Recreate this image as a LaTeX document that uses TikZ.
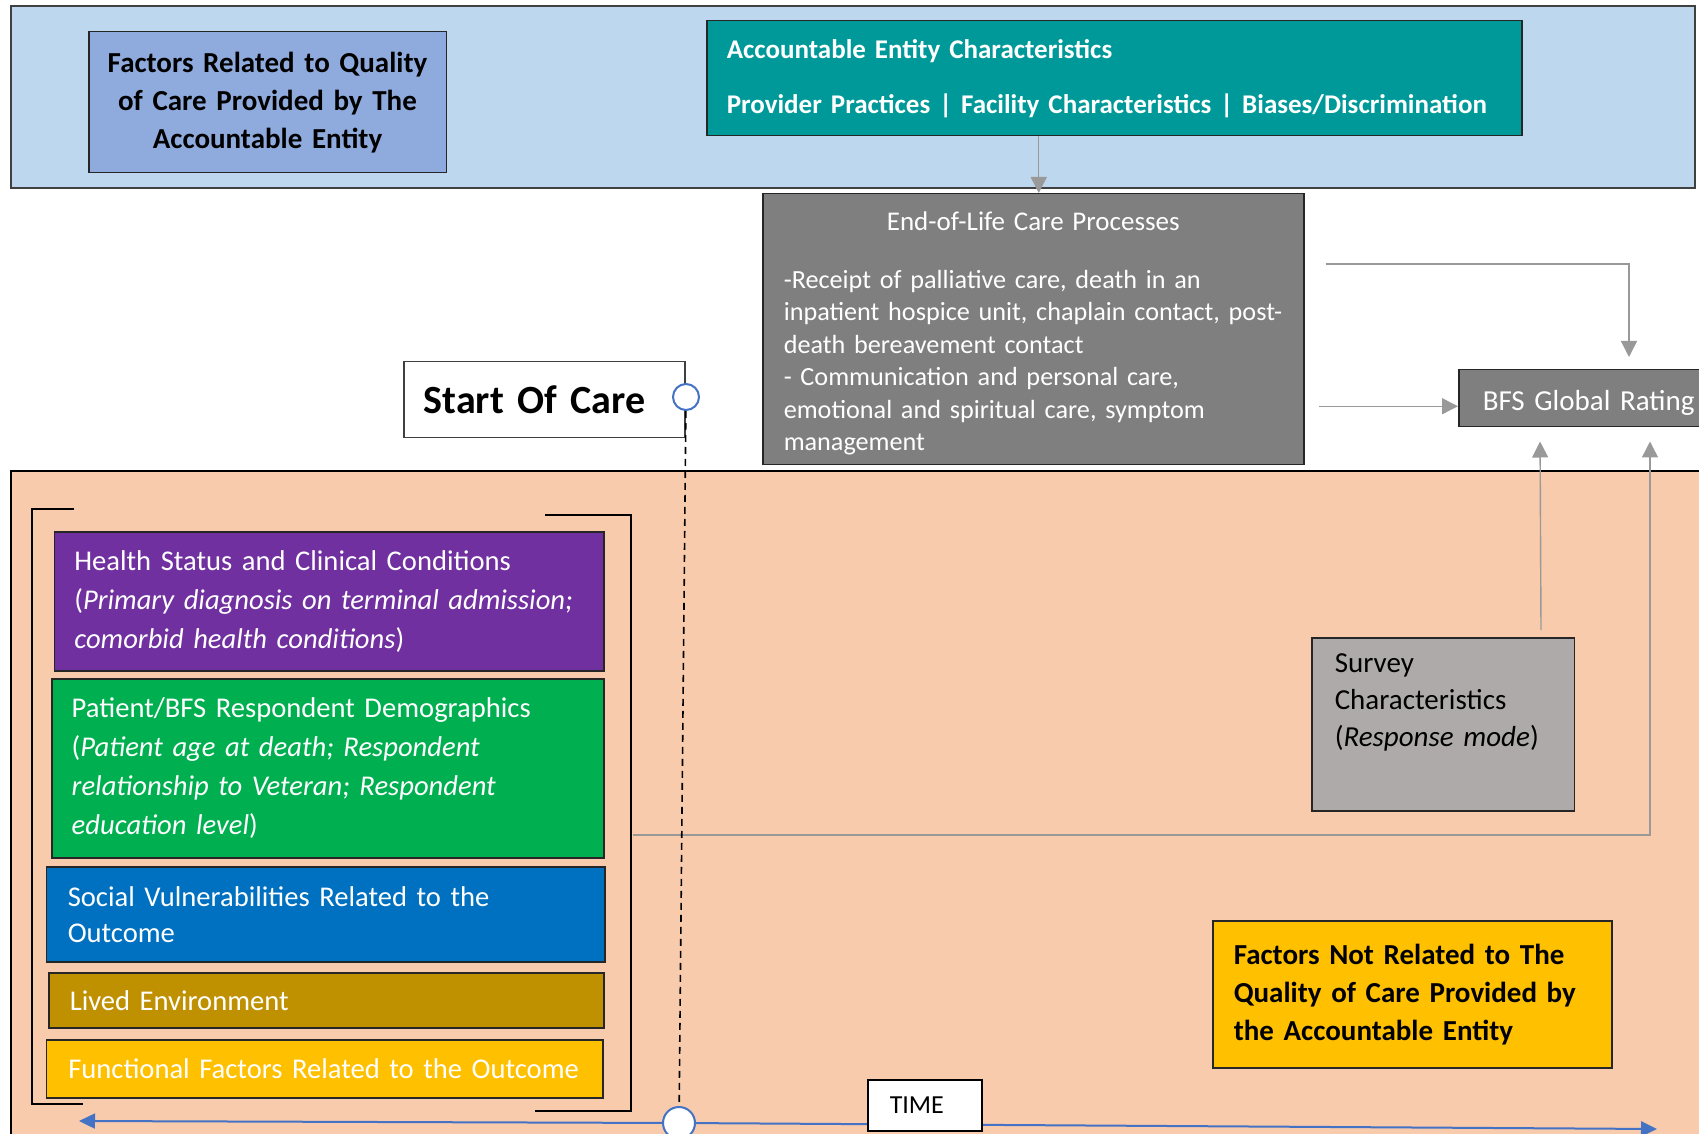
\documentclass[tikz,border=0pt]{standalone}
\usepackage{fontspec}
\setmainfont{Carlito}
\usetikzlibrary{arrows.meta}

\definecolor{bandblue}{HTML}{BDD7EE}
\definecolor{peach}{HTML}{F8CBAD}
\definecolor{relblue}{HTML}{8FAADC}
\definecolor{entteal}{HTML}{009999}
\definecolor{eolgray}{HTML}{7F7F7F}
\definecolor{hspurple}{HTML}{7030A0}
\definecolor{demogreen}{HTML}{00B050}
\definecolor{socblue}{HTML}{0070C0}
\definecolor{livedbrown}{HTML}{BF9000}
\definecolor{funcgold}{HTML}{FFC000}
\definecolor{survgray}{HTML}{AEAAAA}
\definecolor{lineblue}{HTML}{4472C4}
\definecolor{arrowgray}{HTML}{999999}

% lines may run into the right padding instead of wrapping
\newcommand{\nowrap}{\leftskip=0pt\rightskip=-40pt plus 1fil\relax}

\tikzset{
  box/.style={draw=black!85, line width=0.75pt, anchor=north west, inner ysep=0pt, align=left},
  conn/.style={draw=arrowgray, line width=0.7pt, -{Triangle[width=8pt,length=8pt]}},
  tline/.style={draw=lineblue, line width=1pt, -{Triangle[width=7.5pt,length=8pt]}},
  dot/.style={circle, draw=lineblue, line width=1pt, fill=white, inner sep=0pt}
}

\begin{document}
\begin{tikzpicture}[x=0.5pt, y=-0.5pt]
\useasboundingbox (0,0) rectangle (1699,1134);
\clip (0,0) rectangle (1699,1134);

\draw [fill=bandblue, draw=black!75, line width=0.75pt] (11,6) rectangle (1695,188);
\draw [fill=peach, draw=black, line width=1pt] (11,471) rectangle (1720,1150);

\draw [line width=0.6pt] (74,509) -- (32,509) -- (32,1104) -- (83,1104);
\draw [line width=0.6pt] (545,515) -- (631,515) -- (631,1111) -- (535,1111);
\coordinate (rbr) at (633,835);

\node (relq) [box, fill=relblue, align=center, text width=170pt, inner xsep=4.375pt, minimum height=70.5pt, font=\fontsize{14.5}{19}\selectfont\bfseries] at (88,31) {Factors Related to Quality\\of Care Provided by The\\Accountable Entity};
\node (acc) [box, fill=entteal, text=white, text width=387.5pt, inner xsep=10pt, minimum height=57.5pt, font=\fontsize{13.5}{27.5}\selectfont\bfseries] at (706,20) {\nowrap Accountable Entity Characteristics\\Provider Practices | Facility Characteristics | Biases/Discrimination};

\node (eol) [box, fill=eolgray, text=white, text width=249.5pt, inner xsep=10.5pt, minimum height=135.5pt, font=\fontsize{13.1}{16.25}\selectfont] at (762,193) {\centering{\fontsize{13.5}{16.25}\selectfont\rule{0pt}{13.7pt}End-of-Life Care Processes}\par\vspace{12.5pt}\nowrap -Receipt of palliative care, death in an\\inpatient hospice unit, chaplain contact, post-\\death bereavement contact\\- Communication and personal care,\\emotional and spiritual care, symptom\\management};
\node (bfs) [box, fill=eolgray, text=white, text width=107pt, inner xsep=12pt, minimum height=28.5pt, font=\fontsize{14.5}{17}\selectfont] at (1458,369) {\nowrap\rule{0pt}{14.6pt}BFS Global Rating};

\node (sc) [box, fill=white, draw=black!75, text width=120.5pt, inner xsep=10pt, minimum height=38pt, font=\fontsize{20}{24}\selectfont\bfseries] at (403,361) {\nowrap Start Of Care};
\node (scc) [dot, minimum size=13pt] at (686,397) {};

\node (health) [box, fill=hspurple, text=white, text width=254.7pt, inner xsep=10pt, minimum height=69.5pt, font=\fontsize{14.3}{19.5}\selectfont] at (53.6,531) {\nowrap Health Status and Clinical Conditions\\(\textit{Primary diagnosis on terminal admission;}\\\textit{comorbid health conditions})};
\node (demo) [box, fill=demogreen, text=white, text width=256pt, inner xsep=10pt, minimum height=89.5pt, font=\fontsize{14.3}{19.5}\selectfont] at (51,678) {\nowrap Patient/BFS Respondent Demographics\\(\textit{Patient age at death; Respondent}\\\textit{relationship to Veteran; Respondent}\\\textit{education level})};
\node (social) [box, fill=socblue, text=white, text width=257.75pt, inner xsep=10.75pt, minimum height=47.5pt, font=\fontsize{14.3}{18}\selectfont] at (45.5,866) {\nowrap Social Vulnerabilities Related to the\\Outcome};
\node (lived) [box, fill=livedbrown, text=white, text width=256.5pt, inner xsep=10.5pt, minimum height=27.5pt, font=\fontsize{14.3}{18}\selectfont] at (48,972) {\nowrap Lived Environment};
\node (func) [box, fill=funcgold, text=white, text width=256.25pt, inner xsep=11pt, minimum height=29pt, font=\fontsize{14.3}{18}\selectfont] at (45.5,1039) {\nowrap Functional Factors Related to the Outcome};

\node (survey) [box, fill=survgray, text width=108.25pt, inner xsep=11.5pt, minimum height=86.5pt, font=\fontsize{14.5}{18.5}\selectfont] at (1311,637) {\nowrap Survey\\Characteristics\\(\textit{Response mode})\\\strut};
\node (notrel) [box, fill=funcgold, text width=178.5pt, inner xsep=10.5pt, minimum height=73.5pt, font=\fontsize{14.5}{19}\selectfont\bfseries] at (1212,920) {\nowrap Factors Not Related to The\\Quality of Care Provided by\\the Accountable Entity};

\draw [conn] ([xshift=2.75pt]eol.north |- acc.south) -- ([xshift=2.75pt]eol.north);
\draw [conn] ([xshift=10.5pt,yshift=-35.5pt]eol.north east) -| ([xshift=85.5pt,yshift=6pt]bfs.north west);
\draw [conn] ([xshift=7pt,yshift=-4pt]eol.east |- bfs.west) -- ([yshift=-4pt]bfs.west);
\draw [conn, shorten >=7pt] ([xshift=49pt,yshift=3.5pt]survey.north) -- ([xshift=41pt]bfs.south west);
\draw [conn, shorten >=7pt] (rbr) -| ([xshift=96pt]bfs.south west);

\coordinate (tl) at (79,1121);
\coordinate (tr) at (1657,1129);
\node (t0) [dot, minimum size=16pt] at (679,1123) {};
\draw [tline] (t0) -- (tl);
\draw [tline] (t0) -- (tr);
\draw [line width=0.8pt, dash pattern=on 3.5pt off 2.5pt] (scc) -- (t0);

\node (time) [box, fill=white, draw=black, text width=35pt, inner xsep=11pt, minimum height=25.5pt, font=\fontsize{13}{16}\selectfont] at (867,1079) {\nowrap TIME};
\end{tikzpicture}
\end{document}
